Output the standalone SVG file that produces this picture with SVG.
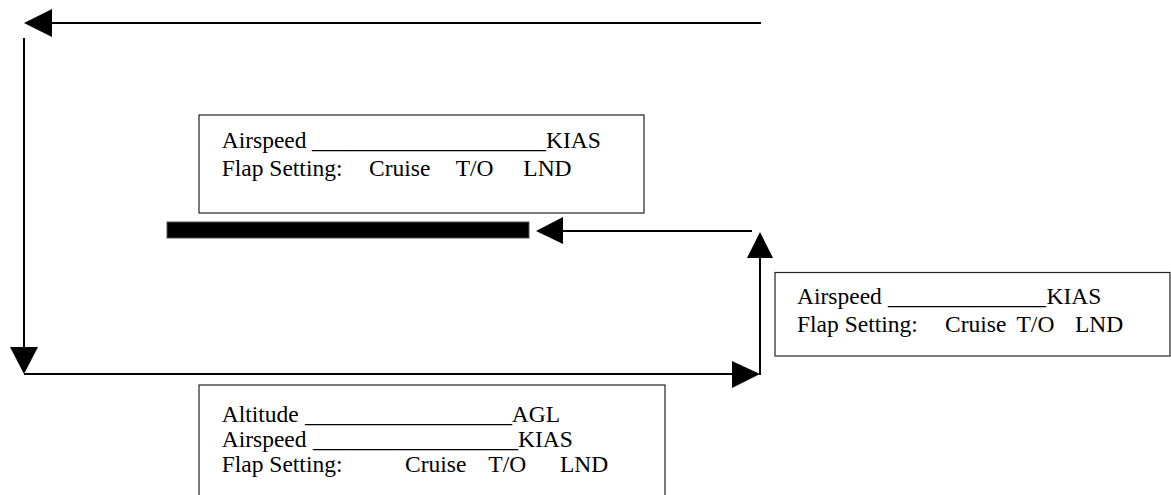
<svg xmlns="http://www.w3.org/2000/svg" width="1171" height="495" viewBox="0 0 1171 495">
<style>
.box{fill:#fff;stroke:#222;stroke-width:1.2}
.t{font-family:"Liberation Serif","Times New Roman",serif;font-size:23.5px;fill:#000}
.ln{stroke:#000;stroke-width:2;fill:none}
.ah{fill:#000}
</style>
<rect width="1171" height="495" fill="#fff"/>
<g id="connectors">
<line class="ln" x1="761" y1="23" x2="50" y2="23"/>
<polygon class="ah" points="24,23 52,9 52,37"/>
<line class="ln" x1="24" y1="38" x2="24" y2="349"/>
<polygon class="ah" points="24,374 10,347 38,347"/>
<line class="ln" x1="24" y1="374" x2="734" y2="374"/>
<polygon class="ah" points="760,374 732,361 732,388"/>
<line class="ln" x1="760" y1="375" x2="760" y2="256"/>
<polygon class="ah" points="760,232 747,258 773,258"/>
<line class="ln" x1="752" y1="231" x2="561" y2="231"/>
<polygon class="ah" points="536,231 563,217 563,244"/>
</g>
<g id="bar">
<rect x="167" y="222" width="362" height="16" fill="#000" stroke="#555" stroke-width="1"/>
</g>
<g id="box-top">
<rect class="box" x="199" y="115" width="445" height="98"/>
<text class="t" y="148"><tspan x="221.7">Airspeed</tspan><tspan x="312" textLength="234" lengthAdjust="spacingAndGlyphs">____________________</tspan><tspan x="546">KIAS</tspan></text>
<text class="t" y="176"><tspan x="221.7">Flap Setting:</tspan><tspan x="369">Cruise</tspan><tspan x="455.7">T/O</tspan><tspan x="523.3">LND</tspan></text>
</g>
<g id="box-right">
<rect class="box" x="775" y="272.5" width="395" height="83.5"/>
<text class="t" y="304"><tspan x="797">Airspeed</tspan><tspan x="888" textLength="158" lengthAdjust="spacingAndGlyphs">_____________</tspan><tspan x="1046.5">KIAS</tspan></text>
<text class="t" y="332"><tspan x="797">Flap Setting:</tspan><tspan x="945">Cruise</tspan><tspan x="1016.5">T/O</tspan><tspan x="1075">LND</tspan></text>
</g>
<g id="box-bottom">
<rect class="box" x="199" y="385" width="466" height="120"/>
<text class="t" y="422"><tspan x="221.7">Altitude</tspan><tspan x="305" textLength="207" lengthAdjust="spacingAndGlyphs">__________________</tspan><tspan x="511.7">AGL</tspan></text>
<text class="t" y="447"><tspan x="221.7">Airspeed</tspan><tspan x="313" textLength="205" lengthAdjust="spacingAndGlyphs">_________________</tspan><tspan x="518">KIAS</tspan></text>
<text class="t" y="472"><tspan x="221.7">Flap Setting:</tspan><tspan x="405">Cruise</tspan><tspan x="488.3">T/O</tspan><tspan x="560">LND</tspan></text>
</g>
</svg>
